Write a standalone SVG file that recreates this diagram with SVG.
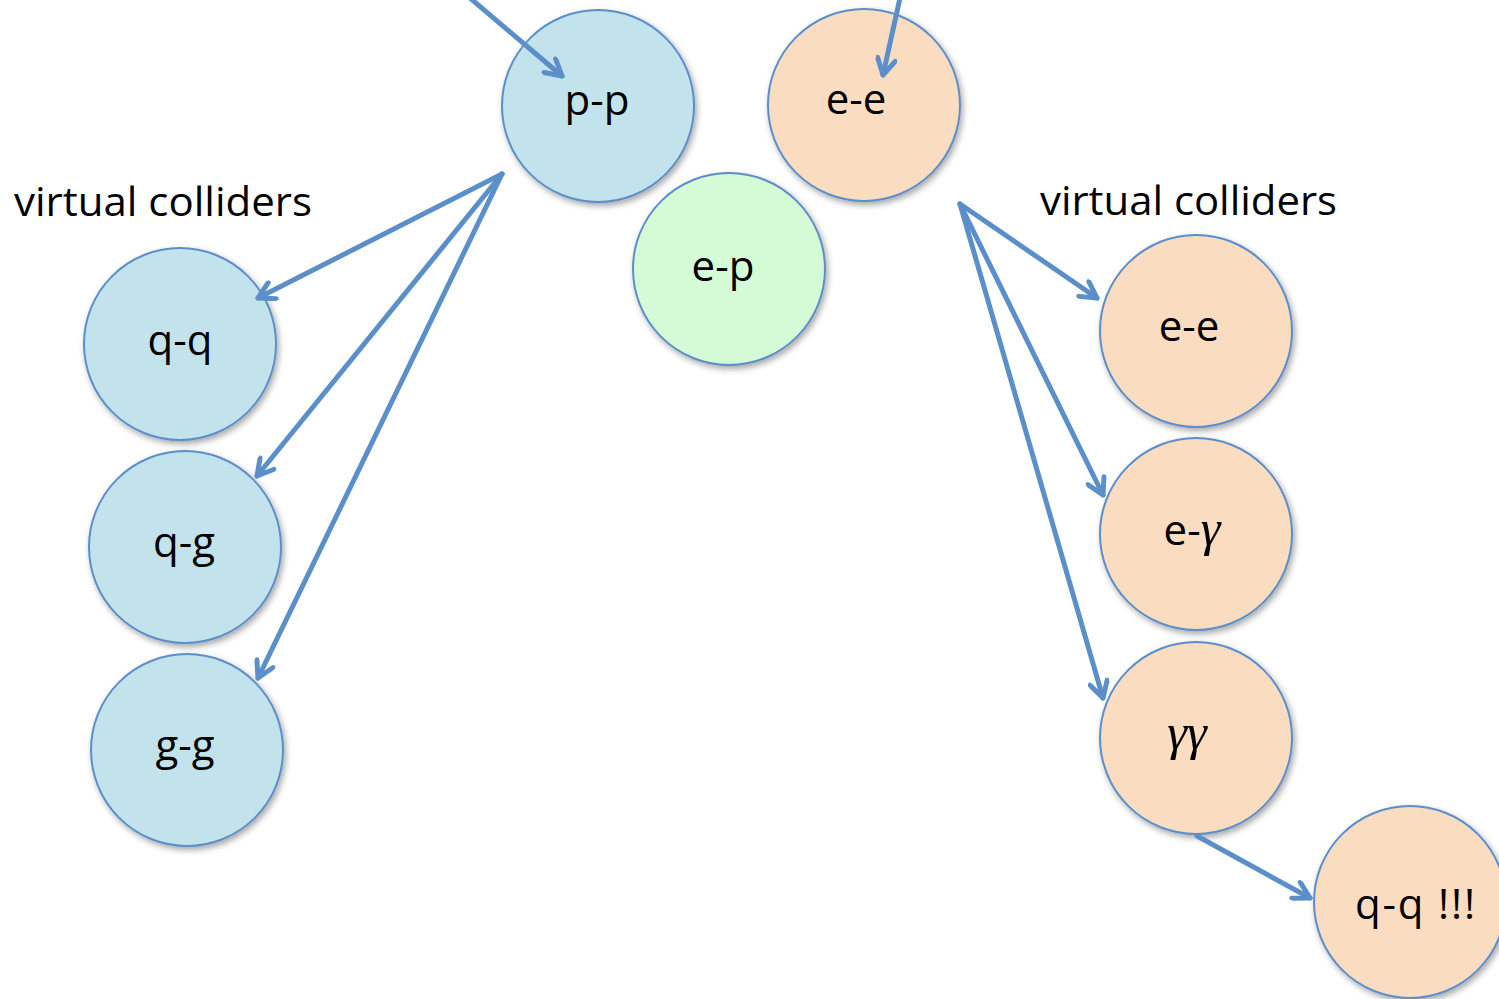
<svg xmlns="http://www.w3.org/2000/svg" width="1499" height="999" viewBox="0 0 1499 999">
<style>
.n{stroke:#5b8fc9;stroke-width:2}
.blue{fill:#c3e3ec}
.peach{fill:#fadcc0}
.green{fill:#d5fbd6}
.t{font-family:"Open Sans","Liberation Sans",sans-serif;font-size:42px;fill:#000;text-anchor:middle}
.g{font-family:"Liberation Serif","DejaVu Serif",serif;font-style:italic;font-size:50px}
.lab{font-family:"Open Sans","Liberation Sans",sans-serif;font-size:40px;fill:#000}
.c{stroke:#5b8fc9;stroke-width:5;fill:none;stroke-linecap:round}
</style>
<defs>
<filter id="sh" x="-20%" y="-20%" width="150%" height="150%">
<feGaussianBlur in="SourceAlpha" stdDeviation="3"/>
<feOffset dx="2" dy="3" result="b"/>
<feComponentTransfer><feFuncA type="linear" slope="0.35"/></feComponentTransfer>
<feMerge><feMergeNode/><feMergeNode in="SourceGraphic"/></feMerge>
</filter>
<marker id="ah" viewBox="0 0 22 22" refX="19" refY="11" markerWidth="22" markerHeight="22" markerUnits="userSpaceOnUse" orient="auto">
<path d="M3,2 L19,11 L3,20" fill="none" stroke="#5b8fc9" stroke-width="5" stroke-linecap="round" stroke-linejoin="round"/>
</marker>
</defs>
<rect width="1499" height="999" fill="#fff"/>
<g id="n-pp"><circle class="n blue" cx="598" cy="106" r="96" filter="url(#sh)"/><text class="t" x="597" y="115">p-p</text></g>
<g id="n-ee-top"><circle class="n peach" cx="864" cy="105" r="96" filter="url(#sh)"/><text class="t" x="856" y="114">e-e</text></g>
<g id="n-ep"><circle class="n green" cx="729" cy="269" r="96" filter="url(#sh)"/><text class="t" x="723" y="281">e-p</text></g>
<g id="n-qq"><circle class="n blue" cx="180" cy="344" r="96" filter="url(#sh)"/><text class="t" x="180" y="355">q-q</text></g>
<g id="n-qg"><circle class="n blue" cx="185" cy="547" r="96" filter="url(#sh)"/><text class="t" x="184" y="557">q-g</text></g>
<g id="n-gg"><circle class="n blue" cx="187" cy="750" r="96" filter="url(#sh)"/><text class="t" x="185" y="760">g-g</text></g>
<g id="n-ee-right"><circle class="n peach" cx="1196" cy="331" r="96" filter="url(#sh)"/><text class="t" x="1189" y="341">e-e</text></g>
<g id="n-eg"><circle class="n peach" cx="1196" cy="534" r="96" filter="url(#sh)"/><text class="t" x="1192" y="545">e-<tspan class="g">γ</tspan></text></g>
<g id="n-gammagamma"><circle class="n peach" cx="1196" cy="738" r="96" filter="url(#sh)"/><text class="t g" x="1187" y="749">γγ</text></g>
<g id="n-qq-bang"><circle class="n peach" cx="1410" cy="902" r="96" filter="url(#sh)"/><text class="t" x="1355" y="919" style="text-anchor:start" textLength="120" lengthAdjust="spacing">q-q !!!</text></g>
<g id="labels">
<text class="lab" x="14" y="216" textLength="298" lengthAdjust="spacingAndGlyphs">virtual colliders</text>
<text class="lab" x="1040" y="215" textLength="297" lengthAdjust="spacingAndGlyphs">virtual colliders</text>
</g>
<g id="connectors">
<line class="c" x1="470" y1="-2" x2="562" y2="76" marker-end="url(#ah)"/>
<line class="c" x1="900" y1="-2" x2="883" y2="75" marker-end="url(#ah)"/>
<line class="c" x1="502" y1="174" x2="258" y2="298" marker-end="url(#ah)"/>
<line class="c" x1="502" y1="174" x2="257" y2="476" marker-end="url(#ah)"/>
<line class="c" x1="502" y1="174" x2="258" y2="678" marker-end="url(#ah)"/>
<line class="c" x1="960" y1="204" x2="1097" y2="298" marker-end="url(#ah)"/>
<line class="c" x1="960" y1="204" x2="1103" y2="495" marker-end="url(#ah)"/>
<line class="c" x1="960" y1="204" x2="1103" y2="698" marker-end="url(#ah)"/>
<line class="c" x1="1197" y1="836" x2="1310" y2="898" marker-end="url(#ah)"/>
</g>
</svg>
